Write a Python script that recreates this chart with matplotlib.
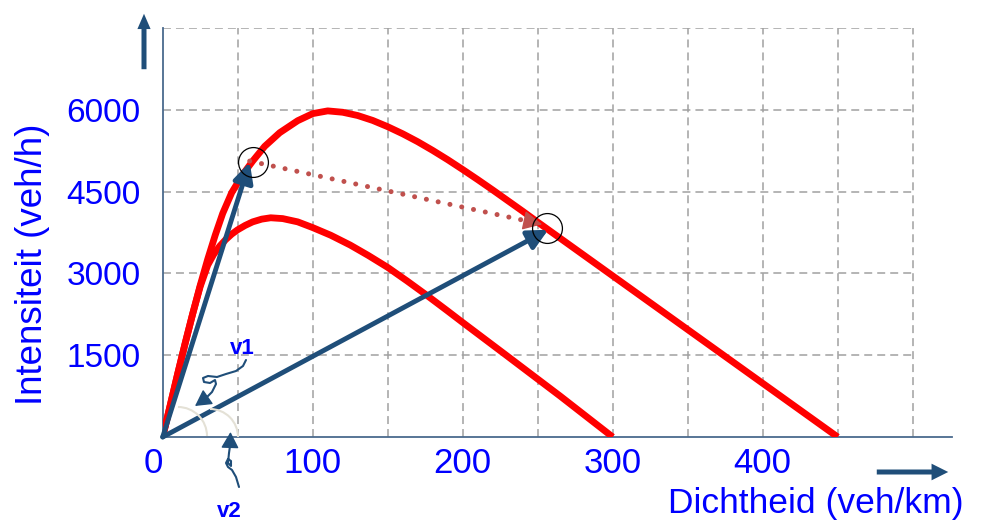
import numpy as np
import matplotlib
matplotlib.use('Agg')
import matplotlib.pyplot as plt
import matplotlib.transforms as mtransforms
from matplotlib.lines import Line2D
from matplotlib.patches import Arc, FancyArrowPatch

# ---------------- data ----------------
outer_k = [0, 5, 10, 15, 20, 25, 30, 35, 40, 46, 53, 60, 68, 78, 90, 100, 110, 120, 130, 140,
           150, 160, 170, 180, 190, 200, 210, 220, 230, 240, 250, 300, 350, 400, 450]
outer_q = [0, 580, 1160, 1720, 2260, 2780, 3260, 3700, 4100, 4480, 4800, 5060, 5330, 5580, 5800, 5930, 5980, 5955, 5895, 5805,
           5690, 5560, 5415, 5255, 5085, 4905, 4720, 4530, 4335, 4140, 3940, 2955, 1970, 985, 0]

inner_k = [0, 5, 10, 15, 20, 25, 30, 34, 38, 42, 46, 50, 55, 60, 66, 72, 80, 90, 100, 112,
           125, 137, 150, 163, 176, 190, 200, 228, 265, 300]
inner_q = [0, 580, 1160, 1720, 2260, 2760, 3150, 3350, 3500, 3620, 3720, 3800, 3880, 3945, 3995, 4020, 4005, 3945, 3840, 3700,
           3520, 3330, 3110, 2860, 2600, 2310, 2100, 1520, 750, 0]

v1_k = [0, 58]
v1_q = [0, 5040]
v2_k = [0, 257]
v2_q = [0, 3800]

shift_k = [58, 253]
shift_q = [5060, 3900]

circle_k = [60, 256]
circle_q = [5040, 3840]

x_ticks = [0, 100, 200, 300, 400]
x_ticklabels = ['0', '100', '200', '300', '400']
y_ticks = [1500, 3000, 4500, 6000]
y_ticklabels = ['1500', '3000', '4500', '6000']
x_grid = [50, 100, 150, 200, 250, 300, 350, 400, 450, 500]
y_grid = [1500, 3000, 4500, 6000, 7500]

xlabel = 'Dichtheid (veh/km)'
ylabel = 'Intensiteit (veh/h)'

# ---------------- styles ----------------
RED = '#FF0000'
NAVY = '#1F4E79'
DOTRED = '#C0504D'
TXT = '#0000FF'
GRID = '#A0A0A0'
SPINE = '#4A6A8E'
FONT = 'Liberation Sans'

W, H = 986, 521
fig = plt.figure(figsize=(W / 100, H / 100), dpi=100)
plt.rcParams['font.family'] = [FONT, 'DejaVu Sans']
pix = mtransforms.Affine2D().scale(1 / W, -1 / H).translate(0, 1) + fig.transFigure

ax = fig.add_axes([162.7 / W, (H - 437) / H, 526 * 1.5 / W, 409 / H])
ax.set_xlim(0, 526)
ax.set_ylim(0, 7500)
for s in ['top', 'right']:
    ax.spines[s].set_visible(False)
for s in ['left', 'bottom']:
    ax.spines[s].set_color(SPINE)
    ax.spines[s].set_linewidth(1.3)

# grid
dash = (0, (5.2, 3.3))
ax.vlines(x_grid, 0, 7500, colors=GRID, linewidth=1.1, linestyles=[dash], zorder=1)
ax.hlines(y_grid, 0, 500, colors=GRID, linewidth=1.1, linestyles=[dash], zorder=1)

# ticks
ax.set_xticks(x_ticks)
ax.set_xticklabels(x_ticklabels)
ax.set_yticks(y_ticks)
ax.set_yticklabels(y_ticklabels)
ax.tick_params(axis='x', length=0, pad=7, labelsize=25, labelcolor=TXT)
ax.tick_params(axis='y', length=0, pad=16, labelsize=24, labelcolor=TXT)
lab0 = ax.get_xticklabels()[0]
lab0.set_transform(lab0.get_transform() + mtransforms.ScaledTranslation(-9.5 / 100, 0, fig.dpi_scale_trans))

# faint angle arcs (pixel space)
for (cx, cy, r) in [(178, 436, 29), (210, 437, 28)]:
    arc = Arc((cx, cy), 2 * r, 2 * r, theta1=270, theta2=360, transform=pix,
              color='#E4E1D6', lw=1.5, zorder=2)
    fig.add_artist(arc)

# red fundamental diagrams
ax.plot(outer_k, outer_q, color=RED, lw=4.9, solid_capstyle='butt', solid_joinstyle='round', zorder=4)
ax.plot(inner_k, inner_q, color=RED, lw=4.9, solid_capstyle='butt', solid_joinstyle='round', zorder=4)

# blue velocity arrows
for ks, qs in [(v1_k, v1_q), (v2_k, v2_q)]:
    ax.annotate('', xy=(ks[1], qs[1]), xytext=(ks[0], qs[0]),
                arrowprops=dict(arrowstyle='-|>,head_length=0.6,head_width=0.3', mutation_scale=20,
                                color=NAVY, lw=3.5, shrinkA=0, shrinkB=0), zorder=5)

# dotted shockwave line with triangle head
ax.plot(shift_k, shift_q, color=DOTRED, lw=3.6, ls=(0, (0.01, 2.4)), dash_capstyle='round', zorder=6)
fk = shift_k[0] + 0.94 * (shift_k[1] - shift_k[0])
fq = shift_q[0] + 0.94 * (shift_q[1] - shift_q[0])
ax.annotate('', xy=(shift_k[1], shift_q[1]), xytext=(fk, fq),
            arrowprops=dict(arrowstyle='-|>,head_length=1.0,head_width=0.5', mutation_scale=12,
                            color=DOTRED, lw=1, shrinkA=0, shrinkB=0), zorder=6)

# circles
ax.plot(circle_k, circle_q, 'o', ms=21.5, mfc='none', mec='black', mew=0.9, zorder=7)

# big axis arrows (pixel space)
fig.add_artist(FancyArrowPatch((144, 72), (144, 11), transform=pix,
                               arrowstyle='simple,head_length=1.1,head_width=0.95,tail_width=0.36',
                               mutation_scale=10, color=NAVY, lw=0))
fig.add_artist(FancyArrowPatch((874, 472), (951, 472), transform=pix,
                               arrowstyle='simple,head_length=1.2,head_width=1.2,tail_width=0.36',
                               mutation_scale=10, color=NAVY, lw=0))

# axis labels
fig.text(33, 264, ylabel, transform=pix, rotation=90, ha='center', va='center',
         fontsize=26.5, color=TXT)
fig.text(816, 513, xlabel, transform=pix, ha='center', va='baseline',
         fontsize=25.5, color=TXT)

# v1 / v2 annotations
fig.text(242, 349, 'v1', transform=pix, ha='center', va='center', fontsize=16,
         fontweight='bold', color=TXT)
fig.text(229, 501, 'v2', transform=pix, ha='center', va='top', fontsize=16,
         fontweight='bold', color=TXT)

sq1 = [(246, 360), (243, 366), (236, 371), (226, 374), (217, 377), (208, 376), (203, 378),
       (204, 382), (210, 383), (215, 380), (216, 384), (212, 392), (205, 399)]
sq2 = [(239, 487), (236, 477), (232, 470), (228, 467), (226, 463), (228, 459), (231, 461),
       (231, 466), (228, 463), (229, 453), (230, 446)]
for pts, tip in [(sq1, (195, 406)), (sq2, (230.5, 432))]:
    xs, ys = zip(*pts)
    fig.add_artist(Line2D(xs, ys, transform=pix, color=NAVY, lw=1.5, solid_capstyle='round'))
    fig.add_artist(FancyArrowPatch(pts[-1], tip, transform=pix,
                                   arrowstyle='-|>,head_length=1.0,head_width=0.55', mutation_scale=10,
                                   color=NAVY, lw=1, shrinkA=0, shrinkB=0))

fig.savefig('out.png', dpi=100)
